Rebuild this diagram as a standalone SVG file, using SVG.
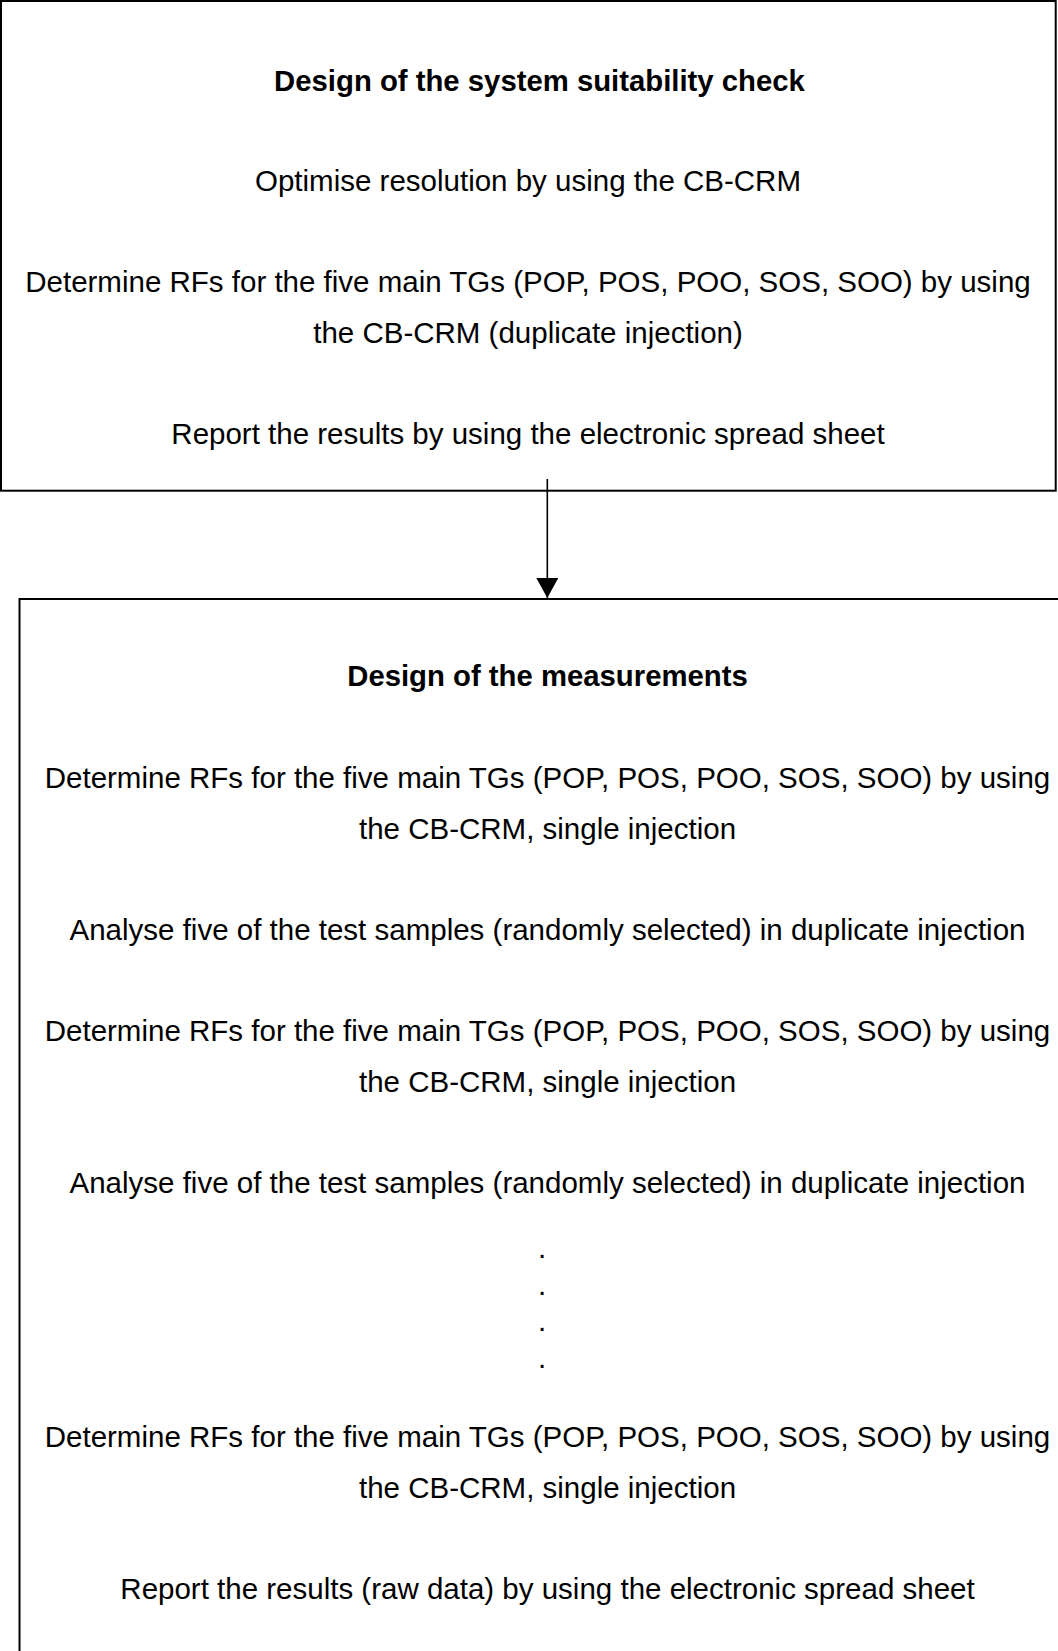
<svg xmlns="http://www.w3.org/2000/svg" width="1058" height="1651" viewBox="0 0 1058 1651">
  <style>
    .box { fill: none; stroke: #000; stroke-width: 2; }
    .txt { font-family: "Liberation Sans", Arial, sans-serif; font-size: 29.5px; fill: #000; text-anchor: middle; }
    .bold { font-weight: bold; font-size: 29.3px; }
    .link { stroke: #000; stroke-width: 1.6; fill: none; }
  </style>
  <defs>
    <marker id="arrowhead" markerUnits="userSpaceOnUse" markerWidth="22" markerHeight="22" refX="20" refY="11" orient="auto">
      <path d="M0,0 L20,11 L0,22 Z" fill="#000"/>
    </marker>
  </defs>
  <rect width="1058" height="1651" fill="#fff"/>

  <!-- Step 1: system suitability check -->
  <g id="suitability-check">
    <rect class="box" x="1" y="1" width="1054.7" height="489.7"/>
    <text class="txt bold" x="539.5" y="90.5">Design of the system suitability check</text>
    <text class="txt" x="528" y="191.3">Optimise resolution by using the CB-CRM</text>
    <text class="txt" x="528" y="292.3">Determine RFs for the five main TGs (POP, POS, POO, SOS, SOO) by using</text>
    <text class="txt" x="528" y="342.8">the CB-CRM (duplicate injection)</text>
    <text class="txt" x="528" y="443.6">Report the results by using the electronic spread sheet</text>
  </g>

  <!-- Step 2: measurements -->
  <g id="measurements">
    <rect class="box" x="19.5" y="599" width="1056" height="1100"/>
    <text class="txt bold" x="547.5" y="686">Design of the measurements</text>
    <text class="txt" x="547.5" y="788.3">Determine RFs for the five main TGs (POP, POS, POO, SOS, SOO) by using</text>
    <text class="txt" x="547.5" y="838.9">the CB-CRM, single injection</text>
    <text class="txt" x="547.5" y="940.2">Analyse five of the test samples (randomly selected) in duplicate injection</text>
    <text class="txt" x="547.5" y="1041.4">Determine RFs for the five main TGs (POP, POS, POO, SOS, SOO) by using</text>
    <text class="txt" x="547.5" y="1092">the CB-CRM, single injection</text>
    <text class="txt" x="547.5" y="1193.3">Analyse five of the test samples (randomly selected) in duplicate injection</text>
    <text class="txt" x="542" y="1258">.</text>
    <text class="txt" x="542" y="1294.5">.</text>
    <text class="txt" x="542" y="1331">.</text>
    <text class="txt" x="542" y="1367.5">.</text>
    <text class="txt" x="547.5" y="1447.4">Determine RFs for the five main TGs (POP, POS, POO, SOS, SOO) by using</text>
    <text class="txt" x="547.5" y="1498">the CB-CRM, single injection</text>
    <text class="txt" x="547.5" y="1599.3">Report the results (raw data) by using the electronic spread sheet</text>
  </g>

  <!-- Connectors -->
  <g id="connectors">
    <line class="link" x1="547.3" y1="479" x2="547.3" y2="598" marker-end="url(#arrowhead)"/>
  </g>
</svg>
